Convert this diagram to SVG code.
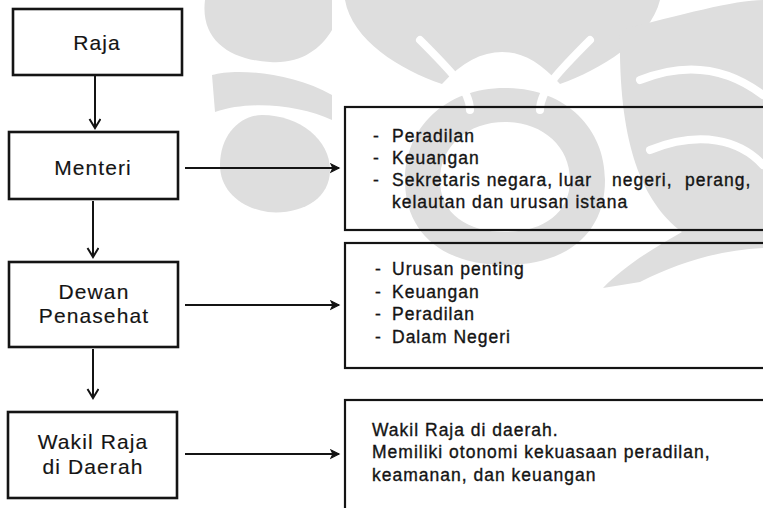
<svg xmlns="http://www.w3.org/2000/svg" width="763" height="508" viewBox="0 0 763 508">
<style>
.box{fill:none;stroke:#141414;stroke-width:2.6}
.desc{fill:none;stroke:#141414;stroke-width:2.2}
.lbl{font-family:"Liberation Sans",Arial,sans-serif;font-size:21px;letter-spacing:1.1px;fill:#141414;stroke:#141414;stroke-width:0.15;text-anchor:middle}
.txt{font-family:"Liberation Sans",Arial,sans-serif;font-size:17.5px;letter-spacing:1px;fill:#141414;stroke:#141414;stroke-width:0.35}
.conn{stroke:#141414;stroke-width:2;fill:none}
.v{marker-end:url(#chev)}
.h{marker-end:url(#tri)}
.wm{fill:#dedede}
.ws{fill:none;stroke:#ffffff;stroke-width:8;stroke-linecap:round}
</style>
<defs>
<marker id="chev" markerUnits="userSpaceOnUse" markerWidth="14" markerHeight="14" refX="10" refY="6" orient="auto">
<path d="M1,0.5 L10,6 L1,11.5" fill="none" stroke="#141414" stroke-width="2"/>
</marker>
<marker id="tri" markerUnits="userSpaceOnUse" markerWidth="12" markerHeight="12" refX="9" refY="5" orient="auto">
<path d="M1,1 L9,5 L1,9 L3,5 Z" fill="#141414" stroke="#141414" stroke-width="1.2"/>
</marker>
</defs>
<rect width="763" height="508" fill="#ffffff"/>
<g id="watermark">
<path class="wm" d="M205,0 C200,40 230,60 270,62 C300,64 320,50 332,30 L332,0 Z"/>
<path class="wm" d="M212,75 C235,68 292,72 332,95 L332,120 C300,105 250,100 215,112 Z"/>
<path class="wm" d="M262,115 C300,115 330,140 330,170 C330,200 300,215 268,212 C240,208 220,190 220,165 C220,135 240,115 262,115 Z"/>
<path class="wm" d="M345,0 L660,0 C650,40 600,70 560,84 C540,62 522,52 502,52 C482,52 462,62 442,84 C400,70 352,40 345,0 Z"/>
<path class="wm" fill-rule="evenodd" d="M505,88 C565,88 605,128 605,180 C605,235 565,265 505,265 C445,265 405,235 405,180 C405,128 445,88 505,88 Z M505,122 C468,122 440,146 440,180 C440,214 468,232 505,232 C542,232 570,214 570,180 C570,146 542,122 505,122 Z"/>
<path class="wm" d="M620,30 C680,15 735,0 763,0 L763,248 C720,250 680,262 640,282 L603,288 C622,268 650,250 682,232 C640,200 618,140 620,30 Z"/>
<path class="ws" d="M640,80 C690,60 730,70 763,95"/>
<path class="ws" d="M650,150 C700,130 740,140 763,165"/>
<path class="ws" d="M420,40 C450,70 470,90 470,110"/>
<path class="ws" d="M590,40 C560,70 540,90 540,110"/>
</g>
<g id="connectors">
<line class="conn v" x1="95" y1="76" x2="95" y2="128"/>
<line class="conn v" x1="93" y1="201" x2="93" y2="257"/>
<line class="conn v" x1="93" y1="349" x2="93" y2="398"/>
<line class="conn h" x1="185" y1="168" x2="339" y2="168"/>
<line class="conn h" x1="185" y1="305" x2="339" y2="305"/>
<line class="conn h" x1="185" y1="454" x2="339" y2="454"/>
</g>
<g id="raja">
<rect class="box" x="13" y="9" width="169" height="66"/>
<text class="lbl" x="97" y="50">Raja</text>
</g>
<g id="menteri">
<rect class="box" x="9" y="132" width="169" height="67"/>
<text class="lbl" x="93" y="175">Menteri</text>
</g>
<g id="dewan">
<rect class="box" x="9" y="262" width="169" height="85"/>
<text class="lbl" x="94" y="299">Dewan</text>
<text class="lbl" x="94" y="323">Penasehat</text>
</g>
<g id="wakil">
<rect class="box" x="8" y="412" width="169" height="86"/>
<text class="lbl" x="93" y="449">Wakil Raja</text>
<text class="lbl" x="93" y="474">di Daerah</text>
</g>
<g id="menteri-desc">
<rect class="desc" x="345" y="107" width="430" height="123"/>
<text class="txt" x="373" y="142">-</text><text class="txt" x="392" y="142">Peradilan</text>
<text class="txt" x="373" y="164">-</text><text class="txt" x="392" y="164">Keuangan</text>
<text class="txt" x="373" y="186">-</text><text class="txt" x="392" y="186">Sekretaris negara, luar</text>
<text class="txt" x="612" y="186">negeri,</text><text class="txt" x="685" y="186">perang,</text>
<text class="txt" x="392" y="208">kelautan dan urusan istana</text>
</g>
<g id="dewan-desc">
<rect class="desc" x="345" y="243" width="430" height="125"/>
<text class="txt" x="375" y="275">-</text><text class="txt" x="392" y="275">Urusan penting</text>
<text class="txt" x="375" y="298">-</text><text class="txt" x="392" y="298">Keuangan</text>
<text class="txt" x="375" y="320">-</text><text class="txt" x="392" y="320">Peradilan</text>
<text class="txt" x="375" y="343">-</text><text class="txt" x="392" y="343">Dalam Negeri</text>
</g>
<g id="wakil-desc">
<rect class="desc" x="345" y="400" width="430" height="130"/>
<text class="txt" x="372" y="436">Wakil Raja di daerah.</text>
<text class="txt" x="372" y="458">Memiliki otonomi kekuasaan peradilan,</text>
<text class="txt" x="372" y="481">keamanan, dan keuangan</text>
</g>
</svg>
